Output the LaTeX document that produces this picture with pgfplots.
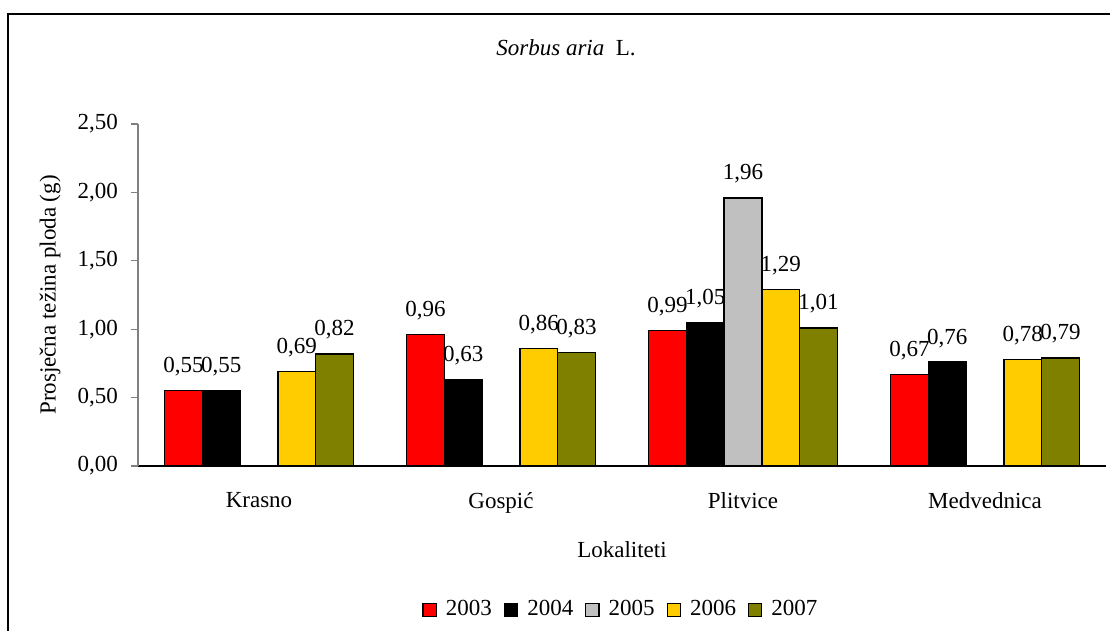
\documentclass[border=0pt]{standalone}
\usepackage{pgfplots}
\pgfplotsset{compat=1.18}
\usepackage{fontspec}
\setmainfont{Liberation Serif}

\definecolor{c2003}{HTML}{FF0000}
\definecolor{c2004}{HTML}{000000}
\definecolor{c2005}{HTML}{C0C0C0}
\definecolor{c2006}{HTML}{FFCC00}
\definecolor{c2007}{HTML}{808000}

\begin{document}
\fontsize{11.5}{13.8}\selectfont
\begin{tikzpicture}[x=0.5pt,y=0.5pt]
  % picture in reference pixels, y measured up from the bottom edge
  \useasboundingbox (0,0) rectangle (1110,631);
  \draw[line width=0.8pt] (8,-10) -- (8,617) -- (1120,617);
  \node at (566,583) {\textit{Sorbus aria}\ \ L.};
  \node[rotate=90] at (50,336) {Prosječna težina ploda (g)};
  \node at (622,81) {Lokaliteti};
  \begin{axis}[
    at={(138pt*0.5,165pt*0.5)}, anchor=south west,
    scale only axis, width=484pt, height=171pt,
    ybar=0pt, bar width=18.85pt,
    ymin=0, ymax=2.5, ytick={0,0.5,...,2.5},
    xmin=-0.5, xmax=3.5,
    xtick={0,1,2,3},
    xticklabels={Krasno,Gospić,Plitvice,Medvednica},
    major x tick style={draw=none},
    extra x ticks={-0.5,0.5,1.5,2.5,3.5},
    extra x tick labels={},
    extra x tick style={major tick length=3.5pt, tick align=outside, tick style={black, line width=0.5pt}},
    axis x line*=bottom, axis y line*=left,
    x axis line style={black, -, line width=0.6pt},
    y axis line style={gray, -, line width=0.6pt},
    ytick style={gray, line width=0.6pt},
    major tick length=3.5pt, tick align=outside,
    /pgf/number format/assume math mode=true,
    yticklabel style={xshift=-2.5pt, /pgf/number format/.cd, fixed, fixed zerofill, precision=2, use comma},
    xticklabel style={yshift=-5.5pt},
    every axis plot/.append style={draw=black, line width=0.7pt},
    nodes near coords={\pgfmathprintnumber[fixed, fixed zerofill, precision=2, use comma]{\pgfplotspointmeta}},
    every node near coord/.append style={anchor=base, inner sep=0pt, yshift=9pt, black},
    legend style={at={(0.5,-0.421)}, anchor=center, draw=none, legend columns=-1,
      /tikz/every odd column/.append style={column sep=2.5pt},
      /tikz/every even column/.append style={column sep=4pt}},
    legend image code/.code={\draw[#1, draw=black, line width=0.6pt] (0pt,-3.3pt) rectangle (6.6pt,3.3pt);},
    ]
    \addplot[fill=c2003] coordinates {(0,0.55) (1,0.96) (2,0.99) (3,0.67)};
    \addplot[fill=c2004] coordinates {(0,0.55) (1,0.63) (2,1.05) (3,0.76)};
    \addplot[fill=c2005] coordinates {(2,1.96)};
    \addplot[fill=c2006] coordinates {(0,0.69) (1,0.86) (2,1.29) (3,0.78)};
    \addplot[fill=c2007] coordinates {(0,0.82) (1,0.83) (2,1.01) (3,0.79)};
    \legend{2003,2004,2005,2006,2007}
  \end{axis}
\end{tikzpicture}
\end{document}
